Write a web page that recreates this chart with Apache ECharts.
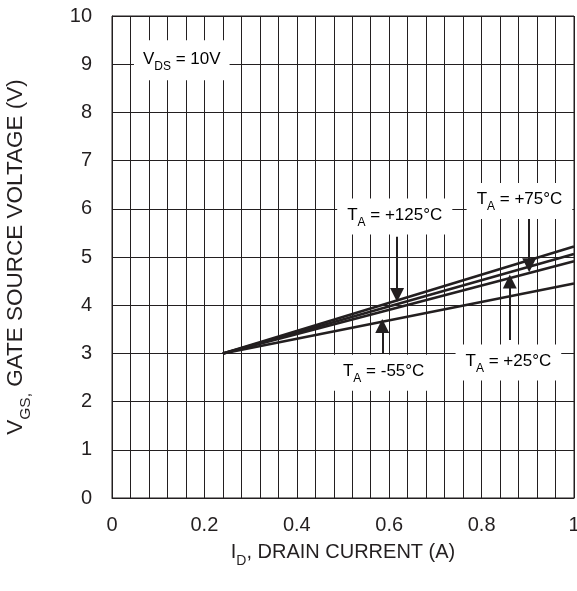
<!DOCTYPE html>
<html><head><meta charset="utf-8">
<script src="https://cdn.jsdelivr.net/npm/echarts@6/dist/echarts.min.js"></script>
<style>html,body{margin:0;padding:0;background:#fff}#c{width:577px;height:591px}</style>
</head><body><div id="c"></div>
<script>
// ---- data ----
const xTickLabels = ['0', '0.2', '0.4', '0.6', '0.8', '1'];
const currents = [0.24, 1.0];          // I_D (A)
const vgs125 = [3.0, 5.22];            // T_A = +125°C
const vgs75 = [3.0, 5.06];             // T_A = +75°C
const vgs25 = [3.0, 4.91];             // T_A = +25°C
const vgsM55 = [3.0, 4.45];            // T_A = -55°C
const tempLabels = ['+125°C', '+75°C', '+25°C', '-55°C'];

// ---- annotations (data units) ----
const arrows = [
  [[0.617, 5.42], [0.617, 4.21]],
  [[0.903, 5.91], [0.903, 4.83]],
  [[0.861, 3.28], [0.861, 4.49]],
  [[0.585, 2.99], [0.585, 3.57]]
];
const labelPos = [[0.612, 5.84], [0.882, 6.16], [0.858, 2.81], [0.588, 2.60]];
const vdsPos = [0.151, 9.08];

const INK = '#231f20';
const FONT = '"Liberation Sans", Arial, sans-serif';
const seriesVals = [vgs125, vgs75, vgs25, vgsM55];

const chart = echarts.init(document.getElementById('c'), null, {renderer: 'canvas'});

const series = seriesVals.map((vals, i) => ({
  name: 'TA = ' + tempLabels[i],
  type: 'line',
  data: currents.map((x, k) => [x, vals[k]]),
  symbol: 'none',
  lineStyle: {color: INK, width: 2.6},
  silent: true,
  z: 3,
  markLine: {
    silent: true,
    symbol: ['none', 'triangle'],
    symbolSize: 14,
    label: {show: false},
    lineStyle: {type: 'solid', color: INK, width: 2},
    itemStyle: {color: INK},
    emphasis: {disabled: true},
    animation: false,
    data: [[{coord: arrows[i][0]}, {coord: arrows[i][1]}]]
  }
}));

const subX = {
  n: {fontSize: 20, fontFamily: FONT, color: INK, verticalAlign: 'bottom', padding: [0, 0, 6, 0]},
  s: {fontSize: 14, fontFamily: FONT, color: INK, verticalAlign: 'bottom', padding: [0, 0, 0, 0]}
};
const subY = {
  n: {fontSize: 22.5, fontFamily: FONT, color: INK, verticalAlign: 'bottom', padding: [0, 0, 7, 0]},
  s: {fontSize: 15.5, fontFamily: FONT, color: INK, verticalAlign: 'bottom', padding: [0, 0, 0, 0]}
};

chart.setOption({
  animation: false,
  backgroundColor: '#fff',
  grid: {left: 112, right: 3, top: 16, bottom: 93, show: true, borderColor: INK, borderWidth: 1,
         containLabel: false, outerBoundsMode: 'none'},
  xAxis: {
    type: 'value', min: 0, max: 1, interval: 0.04,
    axisLine: {show: true, lineStyle: {color: INK, width: 1}},
    axisTick: {show: false},
    splitLine: {show: true, lineStyle: {color: INK, width: 1}},
    axisLabel: {
      fontSize: 20, fontFamily: FONT, color: INK, margin: 17,
      formatter: v => {
        const k = v / 0.2;
        return Math.abs(k - Math.round(k)) < 1e-6 ? xTickLabels[Math.round(k)] : '';
      }
    },
    name: '{n|I}{s|D}{n|, DRAIN CURRENT (A)}',
    nameLocation: 'middle', nameGap: 44,
    nameTextStyle: {rich: subX}
  },
  yAxis: {
    type: 'value', min: 0, max: 10, interval: 1,
    axisLine: {show: true, lineStyle: {color: INK, width: 1}},
    axisTick: {show: false},
    splitLine: {show: true, lineStyle: {color: INK, width: 1}},
    axisLabel: {fontSize: 20, fontFamily: FONT, color: INK, margin: 20},
    name: '{n|V}{s|GS,}{n| GATE SOURCE VOLTAGE (V)}',
    nameLocation: 'middle', nameGap: 78, nameRotate: 90,
    nameTextStyle: {rich: subY}
  },
  series: series
});

const lsub = {
  n: {fontSize: 17, fontFamily: FONT, color: INK, verticalAlign: 'bottom', padding: [0, 0, 5, 0]},
  s: {fontSize: 12, fontFamily: FONT, color: INK, verticalAlign: 'bottom'}
};
const graphics = [];
function addLabel(pos, text, pad) {
  const p = chart.convertToPixel({gridIndex: 0}, pos);
  graphics.push({
    type: 'text', x: p[0], y: p[1], z: 10, silent: true,
    style: {
      text: text, rich: lsub, align: 'center', verticalAlign: 'middle',
      backgroundColor: '#fff', padding: pad
    }
  });
}
tempLabels.forEach((t, i) => addLabel(labelPos[i], '{n|T}{s|A}{n| = ' + t + '}', [8, 10, 6, 10]));
addLabel(vdsPos, '{n|V}{s|DS}{n| = 10V}', [10, 9, 8, 9]);
chart.setOption({graphic: graphics});
</script></body></html>
